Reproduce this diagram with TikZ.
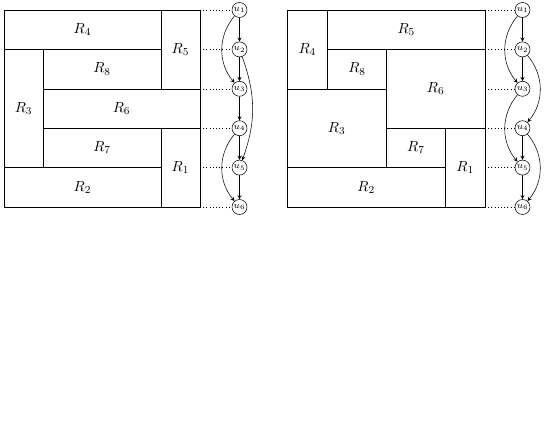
\documentclass[tikz,border=0pt]{standalone}
\usepackage{amsmath}
\begin{document}
\begin{tikzpicture}[x=0.75pt,y=0.75pt,yscale=-1,xscale=1,
    region/.style={font=\fontsize{11}{13}\selectfont},
    vtx/.style={draw,circle,inner sep=0pt,minimum size=11.25pt,font=\scriptsize},
    guide/.style={dotted},
    dep/.style={->,>=stealth,line width=0.4pt}]
\useasboundingbox (0,0) rectangle (550,425);

        % left packing
        \draw (4,10) rectangle (200,207) ;
        \draw (160.8,10) -- (160.8,88.8) ;
        \draw (4,49.4) -- (160.8,49.4) ;
        \draw (43.2,49.4) -- (43.2,167.6) ;
        \draw (43.2,88.8) -- (200,88.8) ;
        \draw (43.2,128.2) -- (200,128.2) ;
        \draw (160.8,128.2) -- (160.8,207) ;
        \draw (4,167.6) -- (160.8,167.6) ;

        \node [region] (lR4) at (82.4,29.7) {$R_4$};
        \node [region] (lR5) at (180.4,49.4) {$R_5$};
        \node [region] (lR8) at (102,69.1) {$R_8$};
        \node [region] (lR3) at (23.6,108.5) {$R_3$};
        \node [region] (lR6) at (121.6,108.5) {$R_6$};
        \node [region] (lR7) at (102,147.9) {$R_7$};
        \node [region] (lR1) at (180.4,167.6) {$R_1$};
        \node [region] (lR2) at (82.4,187.3) {$R_2$};

        % right packing
        \draw (287,10) rectangle (485,207) ;
        \draw (327.6,10) -- (327.6,88.8) ;
        \draw (327.6,49.4) -- (485,49.4) ;
        \draw (386.5,49.4) -- (386.5,167.6) ;
        \draw (287,88.8) -- (386.5,88.8) ;
        \draw (386.5,128.2) -- (485,128.2) ;
        \draw (445.4,128.2) -- (445.4,207) ;
        \draw (287,167.6) -- (445.4,167.6) ;

        \node [region] (rR4) at (307.3,49.4) {$R_4$};
        \node [region] (rR5) at (406.3,29.7) {$R_5$};
        \node [region] (rR8) at (357,69.1) {$R_8$};
        \node [region] (rR6) at (435.7,88.8) {$R_6$};
        \node [region] (rR3) at (336.7,128.2) {$R_3$};
        \node [region] (rR7) at (415.9,147.9) {$R_7$};
        \node [region] (rR1) at (465.2,167.6) {$R_1$};
        \node [region] (rR2) at (366.2,187.3) {$R_2$};

        % left graph
        \node [vtx] (lu1) at (239.5,10) {$u_1$};
        \node [vtx] (lu2) at (239.5,49.4) {$u_2$};
        \node [vtx] (lu3) at (239.5,88.8) {$u_3$};
        \node [vtx] (lu4) at (239.5,128.2) {$u_4$};
        \node [vtx] (lu5) at (239.5,167.6) {$u_5$};
        \node [vtx] (lu6) at (239.5,207) {$u_6$};
        \coordinate (le1) at (200,10);
        \coordinate (le2) at (200,49.4);
        \coordinate (le3) at (200,88.8);
        \coordinate (le4) at (200,128.2);
        \coordinate (le5) at (200,167.6);
        \coordinate (le6) at (200,207);
        \draw [guide] (le1) -- (lu1) ;
        \draw [guide] (le2) -- (lu2) ;
        \draw [guide] (le3) -- (lu3) ;
        \draw [guide] (le4) -- (lu4) ;
        \draw [guide] (le5) -- (lu5) ;
        \draw [guide] (le6) -- (lu6) ;
        \draw [dep] (lu1) -- (lu2) ;
        \draw [dep] (lu2) -- (lu3) ;
        \draw [dep] (lu3) -- (lu4) ;
        \draw [dep] (lu4) -- (lu5) ;
        \draw [dep] (lu5) -- (lu6) ;
        \draw [dep] (lu1) to [bend left=40] (lu3) ;
        \draw [dep] (lu2) to [bend right=20] (lu5) ;
        \draw [dep] (lu4) to [bend left=40] (lu6) ;

        % right graph
        \node [vtx] (ru1) at (522.5,10) {$u_1$};
        \node [vtx] (ru2) at (522.5,49.4) {$u_2$};
        \node [vtx] (ru3) at (522.5,88.8) {$u_3$};
        \node [vtx] (ru4) at (522.5,128.2) {$u_4$};
        \node [vtx] (ru5) at (522.5,167.6) {$u_5$};
        \node [vtx] (ru6) at (522.5,207) {$u_6$};
        \coordinate (re1) at (485,10);
        \coordinate (re2) at (485,49.4);
        \coordinate (re3) at (485,88.8);
        \coordinate (re4) at (485,128.2);
        \coordinate (re5) at (485,167.6);
        \coordinate (re6) at (485,207);
        \draw [guide] (re1) -- (ru1) ;
        \draw [guide] (re2) -- (ru2) ;
        \draw [guide] (re3) -- (ru3) ;
        \draw [guide] (re4) -- (ru4) ;
        \draw [guide] (re5) -- (ru5) ;
        \draw [guide] (re6) -- (ru6) ;
        \draw [dep] (ru1) -- (ru2) ;
        \draw [dep] (ru2) -- (ru3) ;
        \draw [dep] (ru4) -- (ru5) ;
        \draw [dep] (ru5) -- (ru6) ;
        \draw [dep] (ru1) to [bend left=40] (ru3) ;
        \draw [dep] (ru2) to [bend right=40] (ru4) ;
        \draw [dep] (ru3) to [bend left=40] (ru5) ;
        \draw [dep] (ru4) to [bend right=40] (ru6) ;
    \end{tikzpicture}
\end{document}
